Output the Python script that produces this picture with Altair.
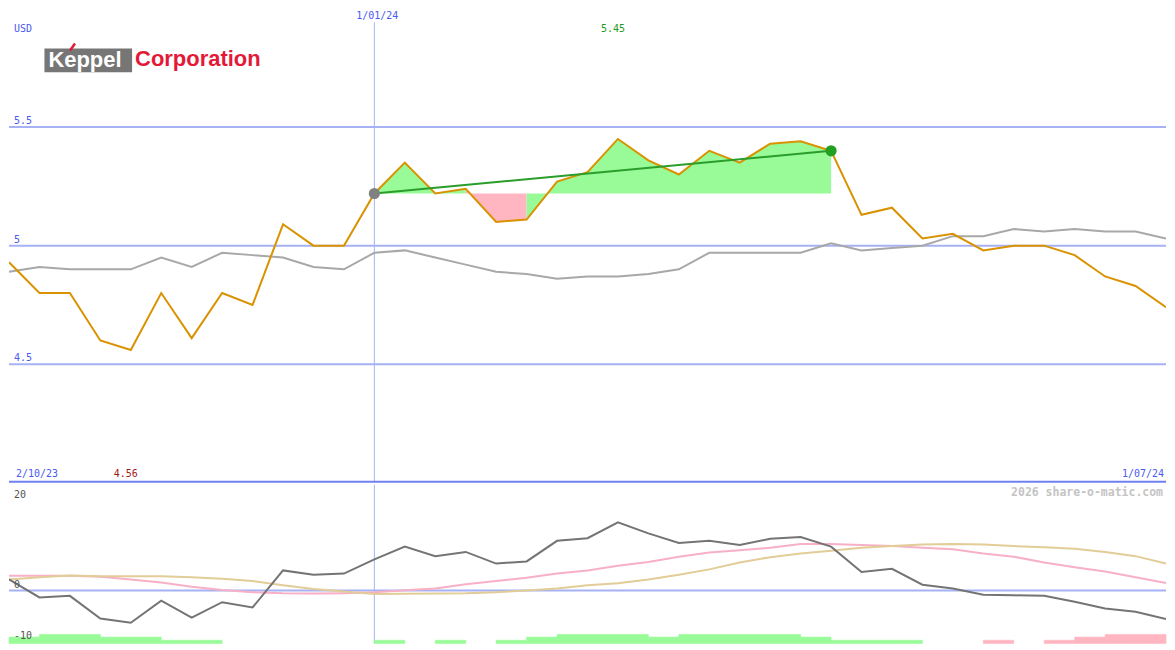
import altair as alt
import pandas as pd

# ---------------- data ----------------
weeks = list(range(39))
price = [4.93, 4.80, 4.80, 4.60, 4.56, 4.80, 4.61, 4.80, 4.75, 5.09, 5.00, 5.00,
         5.22, 5.35, 5.22, 5.24, 5.10, 5.11, 5.27, 5.31, 5.45, 5.36, 5.30, 5.40,
         5.35, 5.43, 5.44, 5.40, 5.13, 5.16, 5.03, 5.05, 4.98, 5.00, 5.00, 4.96,
         4.87, 4.83, 4.74]
compare = [4.89, 4.91, 4.90, 4.90, 4.90, 4.95, 4.91, 4.97, 4.96, 4.95, 4.91, 4.90,
           4.97, 4.98, 4.95, 4.92, 4.89, 4.88, 4.86, 4.87, 4.87, 4.88, 4.90, 4.97,
           4.97, 4.97, 4.97, 5.01, 4.98, 4.99, 5.00, 5.04, 5.04, 5.07, 5.06, 5.07,
           5.06, 5.06, 5.03]
momentum = [2.1, -1.3, -1.0, -5.3, -6.1, -1.9, -5.1, -2.2, -3.2, 3.8, 3.0, 3.2,
            5.9, 8.3, 6.5, 7.3, 5.1, 5.5, 9.4, 9.9, 12.9, 10.8, 9.0, 9.4,
            8.6, 9.8, 10.1, 8.3, 3.5, 4.1, 1.1, 0.4, -0.8, -0.9, -1.0, -2.1,
            -3.4, -4.0, -5.4]
signal_fast = [2.8, 2.8, 2.8, 2.6, 2.1, 1.5, 0.7, 0.1, -0.3, -0.5, -0.55, -0.5,
               -0.33, 0.04, 0.4, 1.2, 1.8, 2.4, 3.2, 3.8, 4.7, 5.4, 6.4, 7.2,
               7.6, 8.1, 8.8, 8.8, 8.6, 8.4, 8.1, 7.8, 7.0, 6.4, 5.3, 4.4,
               3.6, 2.5, 1.4]
signal_slow = [2.1, 2.5, 2.85, 2.7, 2.7, 2.7, 2.5, 2.25, 1.8, 1.0, 0.3, -0.2,
               -0.65, -0.6, -0.55, -0.5, -0.3, 0.0, 0.4, 1.0, 1.4, 2.1, 3.0, 4.0,
               5.3, 6.3, 7.0, 7.5, 8.1, 8.4, 8.7, 8.8, 8.7, 8.4, 8.2, 7.9,
               7.3, 6.5, 5.1]
hist = [1.2, 1.7, 1.7, 1.2, 1.2, 0.6, 0.6, 0, 0, 0, 0, 0, 0.6, 0, 0.6, 0, 0.6,
        1.2, 1.7, 1.7, 1.7, 1.2, 1.7, 1.7, 1.7, 1.7, 1.2, 0.6, 0.6, 0.6, 0, 0,
        -0.6, 0, -0.6, -1.2, -1.7, -1.7]

price_ticks = [4.5, 5.0, 5.5]
price_tick_labels = ["4.5", "5", "5.5"]
osc_ticks = [20, 0, -10]
osc_tick_labels = ["20", "0", "-10"]
currency = "USD"
start_label = "2/10/23"
mid_label = "1/01/24"
end_label = "1/07/24"
mid_index = 12
trend_start = 12
trend_end = 27
company_a = "Keppel"
company_b = "Corporation"
credit = "2026 share-o-matic.com"

# ---------------- layout ----------------
W = 1159
H_TOP = 475
H_BOT = 159
SX = W / 1175
SY = (H_TOP + H_BOT) / 650

BLUE_TXT = "#4b5af0"
GRID = "#a6b2f4"
MONO = "DejaVu Sans Mono"
UP = "#98fb98"
DOWN = "#ffb6c1"

xs = alt.Scale(domain=[0, 38], nice=False, zero=False)
ys_top = alt.Scale(domain=[4, 6], nice=False, zero=False)
ys_bot = alt.Scale(domain=[-10, 20], nice=False, zero=False)

main_df = pd.DataFrame({"i": weeks, "price": price, "compare": compare,
                        "mom": momentum, "fast": signal_fast, "slow": signal_slow})

X = alt.X("i:Q", scale=xs, axis=None)

# ---------------- top panel ----------------
tick_df = pd.DataFrame({"v": price_ticks, "lab": price_tick_labels})
grid_top = alt.Chart(tick_df).mark_rule(color=GRID, strokeWidth=2).encode(
    y=alt.Y("v:Q", scale=ys_top, axis=None))
grid_top_lab = alt.Chart(tick_df).mark_text(
    font=MONO, fontSize=10, color=BLUE_TXT, align="left", baseline="alphabetic", dy=-3
).encode(x=alt.value(5 * SX), y=alt.Y("v:Q", scale=ys_top, axis=None), text="lab:N")

mid_df = pd.DataFrame({"i": [mid_index], "lab": [mid_label]})
vline_top = alt.Chart(mid_df).mark_rule(color=GRID, strokeWidth=1).encode(
    x=X, y=alt.value(14 * SY), y2=alt.value(H_TOP))
mid_lab = alt.Chart(mid_df).mark_text(
    font=MONO, fontSize=10, color=BLUE_TXT, align="center", baseline="middle", dx=3
).encode(x=X, y=alt.value(8 * SY), text="lab:N")

# fill between price and the trend base, coloured per segment, grouped in runs
base = price[trend_start]
seg_colors = [UP if price[k + 1] >= base else DOWN for k in range(trend_start, trend_end)]
runs = []
start = trend_start
for n in range(1, len(seg_colors) + 1):
    if n == len(seg_colors) or seg_colors[n] != seg_colors[n - 1]:
        runs.append((start, trend_start + n, seg_colors[n - 1]))
        start = trend_start + n
seg_rows = []
for r, (a, b, col) in enumerate(runs):
    for j in range(a, b + 1):
        seg_rows.append({"run": r, "i": j, "p": price[j], "base": base, "fill": col})
seg_df = pd.DataFrame(seg_rows)
fill_area = alt.Chart(seg_df).mark_area(interpolate="linear", opacity=1).encode(
    x=X,
    y=alt.Y("p:Q", scale=ys_top, axis=None, stack=None),
    y2="base:Q",
    color=alt.Color("fill:N", scale=None),
    detail="run:N",
)

compare_line = alt.Chart(main_df).mark_line(color="#a8a8a8", strokeWidth=2, clip=True).encode(
    x=X, y=alt.Y("compare:Q", scale=ys_top, axis=None))
price_line = alt.Chart(main_df).mark_line(color="#d99200", strokeWidth=2, clip=True).encode(
    x=X, y=alt.Y("price:Q", scale=ys_top, axis=None))

trend_df = pd.DataFrame({"x0": [trend_start], "x1": [trend_end],
                         "y0": [price[trend_start]], "y1": [price[trend_end]]})
trend = alt.Chart(trend_df).mark_rule(color="#2a9d2a", strokeWidth=2).encode(
    x=alt.X("x0:Q", scale=xs, axis=None), x2="x1:Q",
    y=alt.Y("y0:Q", scale=ys_top, axis=None), y2="y1:Q")

pts_df = pd.DataFrame({"i": [trend_start, trend_end],
                       "p": [price[trend_start], price[trend_end]],
                       "c": ["#808080", "#22a022"]})
pts = alt.Chart(pts_df).mark_circle(size=125, opacity=1).encode(
    x=X, y=alt.Y("p:Q", scale=ys_top, axis=None), color=alt.Color("c:N", scale=None))

imax = price.index(max(price))
imin = price.index(min(price))
hi_df = pd.DataFrame({"i": [imax], "lab": [f"{max(price):.2f}"]})
lo_df = pd.DataFrame({"i": [imin], "lab": [f"{min(price):.2f}"]})
hi_lab = alt.Chart(hi_df).mark_text(font=MONO, fontSize=10, color="#1e9a1e",
                                    align="center", baseline="middle", dx=-5).encode(
    x=X, y=alt.value(20.5 * SY), text="lab:N")
lo_lab = alt.Chart(lo_df).mark_text(font=MONO, fontSize=10, color="#a01818",
                                    align="center", baseline="middle", dx=-5).encode(
    x=X, y=alt.value(478 * SY), text="lab:N")

lab_df = pd.DataFrame({"a": [currency], "s": [start_label], "e": [end_label],
                       "ka": [company_a], "kb": [company_b]})
usd_lab = alt.Chart(lab_df).mark_text(font=MONO, fontSize=10, color=BLUE_TXT,
                                      align="left", baseline="middle").encode(
    x=alt.value(5 * SX), y=alt.value(21 * SY), text="a:N")
start_lab = alt.Chart(lab_df).mark_text(font=MONO, fontSize=10, color=BLUE_TXT,
                                        align="left", baseline="middle").encode(
    x=alt.value(7 * SX), y=alt.value(478 * SY), text="s:N")
end_lab = alt.Chart(lab_df).mark_text(font=MONO, fontSize=10, color=BLUE_TXT,
                                      align="right", baseline="middle").encode(
    x=alt.value(W - 2), y=alt.value(478 * SY), text="e:N")

sep_line = alt.Chart(lab_df).mark_rule(color="#6f80f0", strokeWidth=2).encode(
    x=alt.value(0), x2=alt.value(W), y=alt.value(H_TOP - 1))

# logo
logo_box = alt.Chart(lab_df).mark_rect(color="#767676").encode(
    x=alt.value(36 * SX), x2=alt.value(125 * SX), y=alt.value(41 * SY), y2=alt.value(65.5 * SY))
logo_a = alt.Chart(lab_df).mark_text(font="Liberation Sans", fontWeight="bold", fontSize=22,
                                     color="white", align="left", baseline="alphabetic").encode(
    x=alt.value(40 * SX), y=alt.value(60.5 * SY), text="ka:N")
logo_accent = alt.Chart(lab_df).mark_rule(color="#e31937", strokeWidth=2.5).encode(
    x=alt.value(62 * SX), x2=alt.value(67 * SX), y=alt.value(43 * SY), y2=alt.value(36 * SY))
logo_b = alt.Chart(lab_df).mark_text(font="Liberation Sans", fontWeight="bold", fontSize=22,
                                     color="#e31937", align="left", baseline="alphabetic").encode(
    x=alt.value(128 * SX), y=alt.value(59.5 * SY), text="kb:N")

top = alt.layer(
    grid_top, vline_top, fill_area, compare_line, price_line, trend, pts,
    grid_top_lab, mid_lab, hi_lab, lo_lab, usd_lab, start_lab, end_lab, sep_line,
    logo_box, logo_a, logo_accent, logo_b,
).properties(width=W, height=H_TOP)

# ---------------- bottom panel ----------------
zero_df = pd.DataFrame({"v": [0]})
zero_line = alt.Chart(zero_df).mark_rule(color=GRID, strokeWidth=2).encode(
    y=alt.Y("v:Q", scale=ys_bot, axis=None))
vline_bot = alt.Chart(mid_df).mark_rule(color=GRID, strokeWidth=1).encode(x=X)

hist_df = pd.DataFrame({"i": list(range(len(hist))), "h": hist})
bars = alt.Chart(hist_df).transform_filter("datum.h != 0").transform_calculate(
    i2="datum.i + 1", lo="-10", hi="-10 + abs(datum.h)",
    c=f"datum.h > 0 ? '{UP}' : '{DOWN}'"
).mark_rect(strokeWidth=0.6).encode(
    x=X, x2="i2:Q",
    y=alt.Y("lo:Q", scale=ys_bot, axis=None), y2="hi:Q",
    color=alt.Color("c:N", scale=None),
    stroke=alt.Stroke("c:N", scale=None))

fast_line = alt.Chart(main_df).mark_line(color="#f7b0c6", strokeWidth=2, clip=True).encode(
    x=X, y=alt.Y("fast:Q", scale=ys_bot, axis=None))
slow_line = alt.Chart(main_df).mark_line(color="#e2cc98", strokeWidth=2, clip=True).encode(
    x=X, y=alt.Y("slow:Q", scale=ys_bot, axis=None))
mom_line = alt.Chart(main_df).mark_line(color="#747474", strokeWidth=2, clip=True).encode(
    x=X, y=alt.Y("mom:Q", scale=ys_bot, axis=None))

osc_df = pd.DataFrame({"v": osc_ticks, "lab": osc_tick_labels})
osc_labs = []
for lab, base_line, dy in ((osc_tick_labels[0], "top", 5), (osc_tick_labels[1], "alphabetic", -3),
                           (osc_tick_labels[2], "alphabetic", -4)):
    osc_labs.append(
        alt.Chart(osc_df).transform_filter(alt.datum.lab == lab).mark_text(
            font=MONO, fontSize=10, color="#555555", align="left", baseline=base_line, dy=dy
        ).encode(x=alt.value(5 * SX), y=alt.Y("v:Q", scale=ys_bot, axis=None), text="lab:N")
    )

credit_df = pd.DataFrame({"t": [credit]})
credit_lab = alt.Chart(credit_df).mark_text(
    font=MONO, fontSize=11.5, fontWeight="bold", color="#c4c4c4",
    align="right", baseline="middle").encode(
    x=alt.value(W - 3), y=alt.value(9 * SY), text="t:N")

bottom = alt.layer(
    zero_line, vline_bot, bars, fast_line, slow_line, mom_line, *osc_labs, credit_lab
).properties(width=W, height=H_BOT)

chart = alt.vconcat(top, bottom, spacing=0).properties(
    padding=0, background="white"
).configure_view(stroke=None)

chart.save("out.html", embed_options={"renderer": "svg", "actions": False})
